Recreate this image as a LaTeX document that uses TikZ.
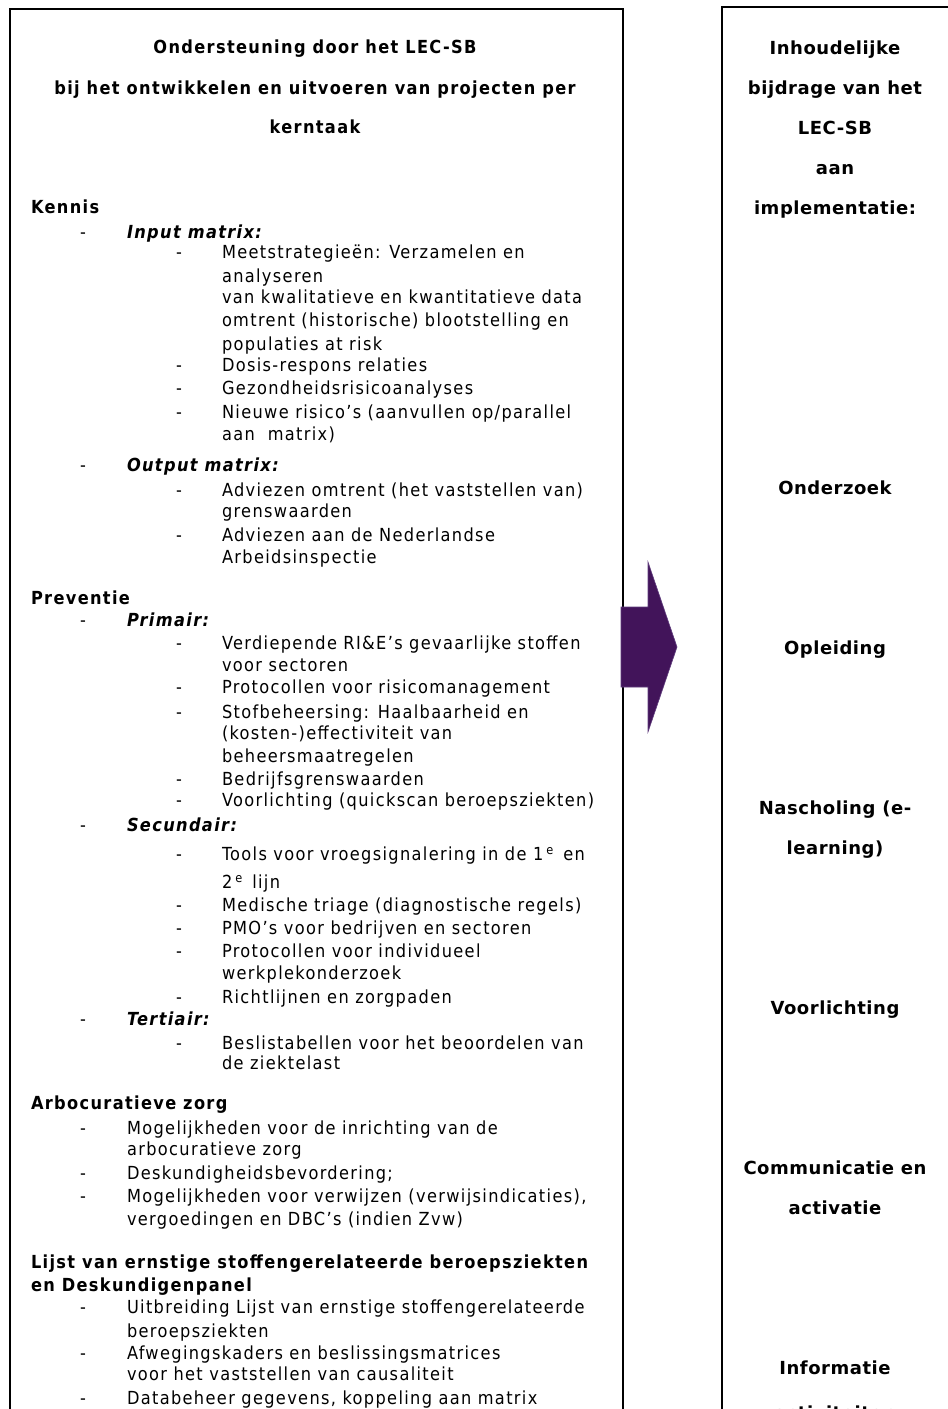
\documentclass[tikz,border=0pt]{standalone}
\usepackage{fontspec}
\newfontfamily\lfont{DejaVu Sans Condensed}[LetterSpace=7.5]
\newfontfamily\rfont{DejaVu Sans}[LetterSpace=3]
\definecolor{arrowpurple}{RGB}{66,20,90}
\definecolor{arrowedge}{RGB}{95,60,125}
\newcommand\myitemA[3]{\node[txt] (d#1) at (80,#2) {-}; \node[txt] (t#1) at (127,#2) {#3};}
\newcommand\mysubA[3]{\node[txt] (d#1) at (80,#2) {-}; \node[sub] (t#1) at (127,#2) {#3};}
\newcommand\mycontA[3]{\node[txt] (t#1) at (127,#2) {#3};}
\newcommand\myitemB[3]{\node[txt] (d#1) at (176,#2) {-}; \node[txt] (t#1) at (222,#2) {#3};}
\newcommand\mycontB[3]{\node[txt] (t#1) at (222,#2) {#3};}
\begin{document}
\begin{tikzpicture}[x=1pt,y=-1pt,
  txt/.style={inner sep=0pt, outer sep=0pt, anchor=base west, yshift=-6.5pt, font=\lfont\fontsize{18}{22}\selectfont},
  ttl/.style={txt, anchor=base, font=\lfont\bfseries\fontsize{18}{22}\selectfont},
  hd/.style={txt, font=\lfont\bfseries\fontsize{18}{22}\selectfont},
  sub/.style={txt, font=\lfont\bfseries\itshape\fontsize{18}{22}\selectfont},
  rt/.style={inner sep=0pt, outer sep=0pt, anchor=base, yshift=-6.5pt, font=\rfont\bfseries\fontsize{18}{22}\selectfont},
  box/.style={draw=black, line width=1.8pt, rectangle, anchor=north west, inner sep=0pt}]
\useasboundingbox (0,0) rectangle (948,1409);
\clip (0,0) rectangle (948,1409);
\fill[white] (0,0) rectangle (948,1409);
% boxes
\node[box, minimum width=613pt, minimum height=1480pt] (leftbox) at (9,8) {};
\node[box, minimum width=280pt, minimum height=1480pt] (rightbox) at (721,6) {};
% arrow
\fill[arrowpurple, draw=arrowedge, line width=0.6pt]
  (621,607) -- (648,607) -- (648,562) -- (677,647) -- (648,732) -- (648,687) -- (621,687) -- cycle;
% left title
\node[ttl] (title1) at (315,47) {Ondersteuning door het LEC-SB};
\node[ttl] (title2) at (315,88) {bij het ontwikkelen en uitvoeren van projecten per};
\node[ttl] (title3) at (315,127) {kerntaak};
% Kennis
\node[hd] (kennis) at (31,207) {Kennis};
\mysubA{a1}{232}{Input matrix:}
\myitemB{b1}{252}{Meetstrategieën: Verzamelen en}
\mycontB{b1a}{276}{analyseren}
\mycontB{b1b}{297}{van kwalitatieve en kwantitatieve data}
\mycontB{b1c}{320}{omtrent (historische) blootstelling en}
\mycontB{b1d}{344}{populaties at risk}
\myitemB{b2}{365}{Dosis-respons relaties}
\myitemB{b3}{388}{Gezondheidsrisicoanalyses}
\myitemB{b4}{412}{Nieuwe risico’s (aanvullen op/parallel}
\mycontB{b4a}{434}{aan\ \ matrix)}
\mysubA{a2}{465}{Output matrix:}
\myitemB{b5}{490}{Adviezen omtrent (het vaststellen van)}
\mycontB{b5a}{511}{grenswaarden}
\myitemB{b6}{535}{Adviezen aan de Nederlandse}
\mycontB{b6a}{557}{Arbeidsinspectie}
% Preventie
\node[hd] (preventie) at (31,598) {Preventie};
\mysubA{a3}{620}{Primair:}
\myitemB{b7}{643}{Verdiepende RI\&E’s gevaarlijke stoffen}
\mycontB{b7a}{665}{voor sectoren}
\myitemB{b8}{687}{Protocollen voor risicomanagement}
\myitemB{b9}{712}{Stofbeheersing: Haalbaarheid en}
\mycontB{b9a}{733}{(kosten-)effectiviteit van}
\mycontB{b9b}{756}{beheersmaatregelen}
\myitemB{b10}{779}{Bedrijfsgrenswaarden}
\myitemB{b11}{800}{Voorlichting (quickscan beroepsziekten)}
\mysubA{a4}{825}{Secundair:}
\myitemB{b12}{854}{Tools voor vroegsignalering in de 1\,\textsuperscript{e}\, en}
\mycontB{b12a}{882}{2\,\textsuperscript{e}\, lijn}
\myitemB{b13}{905}{Medische triage (diagnostische regels)}
\myitemB{b14}{928}{PMO’s voor bedrijven en sectoren}
\myitemB{b15}{951}{Protocollen voor individueel}
\mycontB{b15a}{973}{werkplekonderzoek}
\myitemB{b16}{997}{Richtlijnen en zorgpaden}
\mysubA{a5}{1019}{Tertiair:}
\myitemB{b17}{1043}{Beslistabellen voor het beoordelen van}
\mycontB{b17a}{1063}{de ziektelast}
% Arbocuratieve zorg
\node[hd] (arbo) at (31,1103) {Arbocuratieve zorg};
\myitemA{c1}{1128}{Mogelijkheden voor de inrichting van de}
\mycontA{c1a}{1149}{arbocuratieve zorg}
\myitemA{c2}{1173}{Deskundigheidsbevordering;}
\myitemA{c3}{1196}{Mogelijkheden voor verwijzen (verwijsindicaties),}
\mycontA{c3a}{1219}{vergoedingen en DBC’s (indien Zvw)}
% Lijst
\node[hd] (lijst1) at (31,1262) {Lijst van ernstige stoffengerelateerde beroepsziekten};
\node[hd] (lijst2) at (31,1285) {en Deskundigenpanel};
\myitemA{c4}{1307}{Uitbreiding Lijst van ernstige stoffengerelateerde}
\mycontA{c4a}{1331}{beroepsziekten}
\myitemA{c5}{1353}{Afwegingskaders en beslissingsmatrices}
\mycontA{c5a}{1374}{voor het vaststellen van causaliteit}
\myitemA{c6}{1398}{Databeheer gegevens, koppeling aan matrix}
% right column
\node[rt] (r1) at (835,48) {Inhoudelijke};
\node[rt] (r2) at (835,88) {bijdrage van het};
\node[rt] (r3) at (835,128) {LEC-SB};
\node[rt] (r4) at (835,168) {aan};
\node[rt] (r5) at (835,208) {implementatie:};
\node[rt] (r6) at (835,488) {Onderzoek};
\node[rt] (r7) at (835,648) {Opleiding};
\node[rt] (r8) at (835,808) {Nascholing (e-};
\node[rt] (r9) at (835,848) {learning)};
\node[rt] (r10) at (835,1008) {Voorlichting};
\node[rt] (r11) at (835,1168) {Communicatie en};
\node[rt] (r12) at (835,1208) {activatie};
\node[rt] (r13) at (835,1368) {Informatie};
\node[rt] (r14) at (835,1413) {activiteiten};
\end{tikzpicture}
\end{document}
